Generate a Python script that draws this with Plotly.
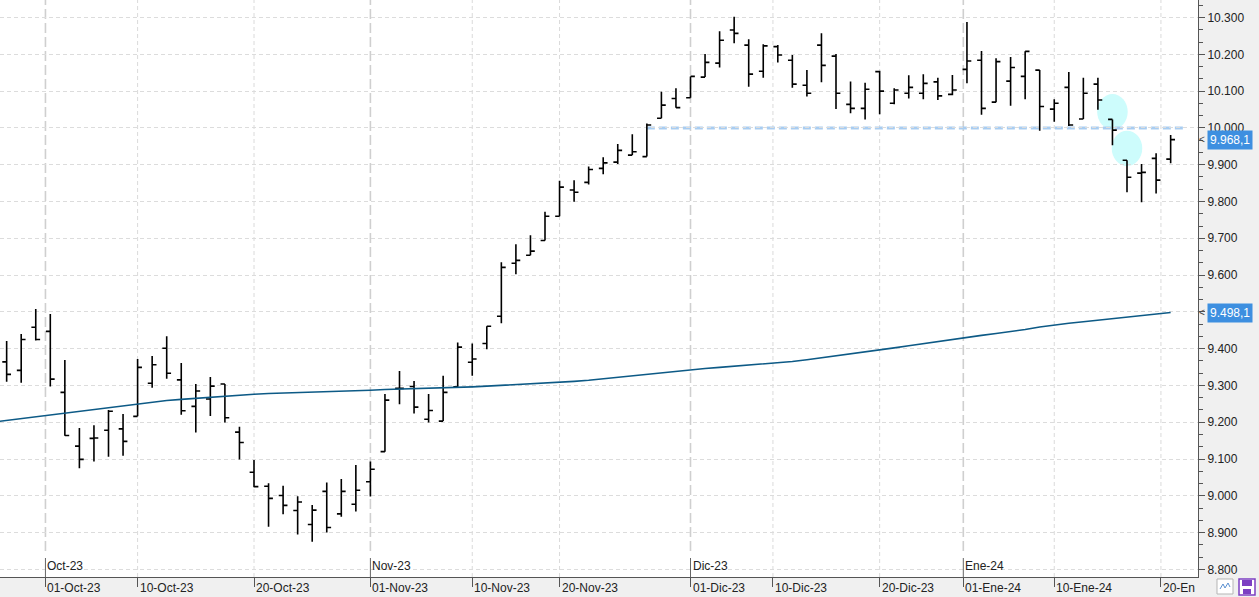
import pandas as pd
import plotly.graph_objects as go

# ---------------- data ----------------
holidays = ["2023-12-25", "2023-12-26", "2024-01-01"]
dates = [d for d in pd.bdate_range("2023-09-27", "2024-01-22") if d.strftime("%Y-%m-%d") not in holidays]

opens = [9364, 9341, 9458, 9447, 9281, 9135, 9156, 9178, 9182, 9216,
         9306, 9401, 9315, 9243, 9263, 9304, 9173, 9064, 9026, 9001,
         8960, 8922, 9012, 8951, 8977, 9038, 9120, 9292, 9297, 9208,
         9203, 9296, 9363, 9414, 9488, 9632, 9654, 9694, 9760, 9831,
         9852, 9890, 9907, 9926, 9922, 10026, 10080, 10082, 10138, 10176,
         10266, 10225, 10154, 10221, 10184, 10116, 10225, 10195, 10064, 10053,
         10153, 10067, 10094, 10094, 10125, 10091, 10159, 10184, 10070, 10127,
         10140, 10157, 10051, 10110, 10024, 10119, 10023, 9912, 9877, 9917,
         9915]
highs = [9421, 9440, 9508, 9494, 9369, 9184, 9192, 9233, 9222, 9372,
         9380, 9434, 9361, 9304, 9323, 9304, 9188, 9097, 9034, 9027,
         8999, 8975, 9036, 9046, 9084, 9093, 9277, 9339, 9312, 9277,
         9326, 9417, 9414, 9461, 9635, 9684, 9708, 9772, 9856, 9858,
         9895, 9920, 9956, 9983, 10012, 10098, 10108, 10140, 10201, 10263,
         10302, 10241, 10227, 10225, 10198, 10157, 10257, 10201, 10126, 10123,
         10155, 10108, 10143, 10146, 10136, 10144, 10288, 10209, 10189, 10193,
         10208, 10157, 10078, 10152, 10136, 10136, 10023, 9912, 9902, 9931,
         9981]
lows = [9310, 9307, 9422, 9297, 9163, 9075, 9093, 9106, 9109, 9216,
        9294, 9318, 9220, 9172, 9217, 9199, 9099, 9023, 8916, 8950,
        8895, 8875, 8900, 8943, 8957, 8998, 9120, 9249, 9224, 9199,
        9203, 9294, 9326, 9398, 9469, 9602, 9654, 9694, 9760, 9799,
        9846, 9874, 9902, 9926, 9922, 10026, 10055, 10082, 10138, 10164,
        10230, 10112, 10136, 10178, 10109, 10085, 10124, 10051, 10040, 10023,
        10037, 10064, 10080, 10078, 10076, 10089, 10121, 10036, 10070, 10060,
        10078, 9992, 10017, 10005, 10024, 10049, 9953, 9825, 9798, 9822,
        9904]
closes = [9330, 9425, 9425, 9317, 9164, 9099, 9157, 9230, 9148, 9349,
          9356, 9333, 9231, 9285, 9298, 9212, 9145, 9025, 8993, 8974,
          8983, 8961, 8914, 9012, 9015, 9072, 9260, 9292, 9241, 9232,
          9281, 9404, 9372, 9461, 9621, 9640, 9665, 9760, 9839, 9825,
          9887, 9905, 9939, 9935, 10008, 10062, 10055, 10140, 10178, 10238,
          10257, 10146, 10223, 10198, 10119, 10094, 10170, 10094, 10053, 10105,
          10100, 10103, 10110, 10121, 10087, 10103, 10182, 10053, 10180, 10164,
          10208, 10058, 10067, 10008, 10094, 10076, 9994, 9866, 9879, 9858,
          9968.1]
# moving average, starting one session earlier (2023-09-26) so it reaches the left edge
ma200 = [9200,
         9205, 9210, 9215, 9220, 9225, 9230, 9235, 9240, 9246, 9251,
         9255, 9259, 9262, 9265, 9268, 9271, 9274, 9276, 9278, 9279,
         9280, 9281, 9282, 9283, 9285, 9287, 9289, 9290, 9291, 9292,
         9293, 9294, 9296, 9298, 9300, 9302, 9304, 9306, 9308, 9311,
         9314, 9318, 9322, 9326, 9330, 9335, 9339, 9343, 9346, 9349,
         9352, 9355, 9358, 9361, 9365, 9370, 9375, 9380, 9386, 9391,
         9396, 9402, 9408, 9414, 9419, 9424, 9431, 9436, 9441, 9446,
         9452, 9459, 9465, 9469, 9473, 9477, 9482, 9487, 9491, 9495,
         9498.1]

y_ticks = [8800, 8900, 9000, 9100, 9200, 9300, 9400, 9500, 9600, 9700,
           9800, 9900, 10000, 10100, 10200, 10300]
tick_dates = ["2023-10-01", "2023-10-10", "2023-10-20", "2023-11-01", "2023-11-10", "2023-11-20",
              "2023-12-01", "2023-12-10", "2023-12-20", "2024-01-01", "2024-01-10", "2024-01-20"]
tick_labels = ["01-Oct-23", "10-Oct-23", "20-Oct-23", "01-Nov-23", "10-Nov-23", "20-Nov-23",
               "01-Dic-23", "10-Dic-23", "20-Dic-23", "01-Ene-24", "10-Ene-24", "20-En"]
month_dates = ["2023-10-01", "2023-11-01", "2023-12-01", "2024-01-01"]
month_labels = ["Oct-23", "Nov-23", "Dic-23", "Ene-24"]

level_line = 10000          # horizontal reference level
level_start = "2023-11-28"
highlight_dates = ["2024-01-16", "2024-01-17"]
highlight_prices = [10044, 9944.5]
last_labels = [closes[-1], ma200[-1]]

# ---------------- helpers ----------------
idx = list(range(len(dates)))
ma_x = list(range(-1, len(dates)))


def pos(dstr):
    d = pd.Timestamp(dstr)
    for i, t in enumerate(dates):
        if t == d:
            return float(i)
        if t > d:
            p = dates[i - 1]
            return (i - 1) + (d - p).days / (t - p).days
    return float(len(dates) - 1)


def fmt_es(v, dec=0):
    s = f"{v:,.{dec}f}"
    return s.replace(",", "X").replace(".", ",").replace("X", ".")


FONT = "Liberation Sans, Arial, sans-serif"
W, H = 1259, 597
ML, MR, MB, MT = 0, 61, 20, 0
PW, PH = W - ML - MR, H - MB - MT

fig = go.Figure()
fig.add_trace(go.Ohlc(x=idx, open=opens, high=highs, low=lows, close=closes,
                      increasing_line_color="#000000", decreasing_line_color="#000000",
                      line_width=1.6, tickwidth=0.3, hoverinfo="skip", showlegend=False))
fig.add_trace(go.Scatter(x=ma_x, y=ma200, mode="lines", line=dict(color="#0d5a86", width=1.6),
                         hoverinfo="skip", showlegend=False))

shapes = []
# highlight ellipses
for d, p in zip(highlight_dates, highlight_prices):
    c = pos(d)
    shapes.append(dict(type="circle", xref="x", yref="y", x0=c - 1.05, x1=c + 1.05,
                       y0=p - 48, y1=p + 48, fillcolor="#cdfcfc", line=dict(width=0), layer="below"))
# vertical grid lines (10/20 days)
month_pos = [pos(d) for d in month_dates]
for d in tick_dates:
    if d not in month_dates:
        shapes.append(dict(type="line", xref="x", yref="paper", x0=pos(d), x1=pos(d), y0=0, y1=1,
                           line=dict(color="#dadada", width=1, dash="4px,3px"), layer="below"))
# month lines
for p in month_pos:
    shapes.append(dict(type="line", xref="x", yref="paper", x0=p, x1=p, y0=0.045, y1=1,
                       line=dict(color="#cfcfcf", width=1.6, dash="10px,4px"), layer="below"))
    shapes.append(dict(type="line", xref="x", yref="paper", x0=p, x1=p, y0=0, y1=(PH - 558) / PH,
                       line=dict(color="#666666", width=1), layer="above"))
# reference level
shapes.append(dict(type="line", xref="x", yref="y", x0=pos(level_start), x1=len(dates),
                   y0=level_line, y1=level_line,
                   line=dict(color="#a9cdf1", width=3, dash="8px,4px"), layer="below"))


def px(x):
    return (x - ML) / PW


def py(y):
    return (PH - y) / PH


# icons bottom-right
shapes.append(dict(type="rect", xref="paper", yref="paper", x0=px(1217), x1=px(1233), y0=py(594), y1=py(579),
                   fillcolor="#ffffff", line=dict(color="#b5b5b5", width=1)))
shapes.append(dict(type="path", xref="paper", yref="paper",
                   path=f"M {px(1220)} {py(589)} L {px(1223)} {py(584)} L {px(1225)} {py(588)} L {px(1228)} {py(583)} L {px(1230)} {py(587)}",
                   line=dict(color="#5a8fd0", width=1)))
shapes.append(dict(type="rect", xref="paper", yref="paper", x0=px(1239), x1=px(1255), y0=py(595), y1=py(579),
                   fillcolor="#ffffff", line=dict(color="#7c3fc2", width=1.5)))
shapes.append(dict(type="rect", xref="paper", yref="paper", x0=px(1242), x1=px(1252), y0=py(586), y1=py(580),
                   fillcolor="#7c3fc2", line=dict(width=0)))
shapes.append(dict(type="rect", xref="paper", yref="paper", x0=px(1243), x1=px(1251), y0=py(594), y1=py(589),
                   fillcolor="#7c3fc2", line=dict(width=0)))

annotations = []
for d, t in zip(tick_dates, tick_labels):
    annotations.append(dict(x=pos(d), y=py(588), xref="x", yref="paper", text=t, showarrow=False,
                            xanchor="left", yanchor="middle", xshift=0,
                            font=dict(family=FONT, size=12, color="#222222")))
for p, t in zip(month_pos, month_labels):
    annotations.append(dict(x=p, y=py(566), xref="x", yref="paper", text=t, showarrow=False,
                            xanchor="left", yanchor="middle", xshift=0,
                            font=dict(family=FONT, size=12, color="#222222")))
for v in last_labels:
    annotations.append(dict(x=px(1207), y=v, xref="paper", yref="y", text=fmt_es(v, 1), showarrow=False,
                            xanchor="left", yanchor="middle", bgcolor="#3d8fe0", borderpad=2,
                            font=dict(family=FONT, size=12, color="#ffffff")))
    annotations.append(dict(x=px(1202), y=v, xref="paper", yref="y", text="&lt;", showarrow=False,
                            xanchor="center", yanchor="middle",
                            font=dict(family=FONT, size=10, color="#444444")))

# tick labels hidden where the price boxes fully cover them (as in the source)
covered = [round(v, -2) for v in last_labels if abs(v - round(v, -2)) < 10]
y_text = ["" if t in covered else fmt_es(t) for t in y_ticks]

fig.update_layout(
    width=W, height=H, autosize=False,
    margin=dict(l=ML, r=MR, t=MT, b=MB, pad=0),
    paper_bgcolor="#f0f0f0", plot_bgcolor="#ffffff",
    separators=",.",
    showlegend=False,
    shapes=shapes, annotations=annotations,
    xaxis=dict(range=[-0.457, 81.88], showgrid=False, zeroline=False, rangeslider=dict(visible=False),
               tickmode="array", tickvals=[pos(d) for d in tick_dates], ticktext=[""] * len(tick_dates),
               ticks="outside", ticklen=9, tickcolor="#555555", showticklabels=False,
               showline=True, linecolor="#555555", linewidth=1, fixedrange=True),
    yaxis=dict(side="right", range=[8779.3, 10347.6], tickmode="array", tickvals=y_ticks, ticktext=y_text,
               showgrid=True, gridcolor="#dcdcdc", griddash="4px,3px", gridwidth=1,
               zeroline=False, ticks="outside", ticklen=6, tickcolor="#555555",
               minor=dict(ticks="outside", ticklen=4, tick0=8800, dtick=100 / 3, tickcolor="#555555",
                          showgrid=False),
               showline=True, linecolor="#555555", linewidth=1,
               tickfont=dict(family=FONT, size=12, color="#222222"), fixedrange=True),
)

fig.write_html("out.html", config={"displayModeBar": False},
               post_script="document.body.style.margin='0px';document.body.style.overflow='hidden';")
